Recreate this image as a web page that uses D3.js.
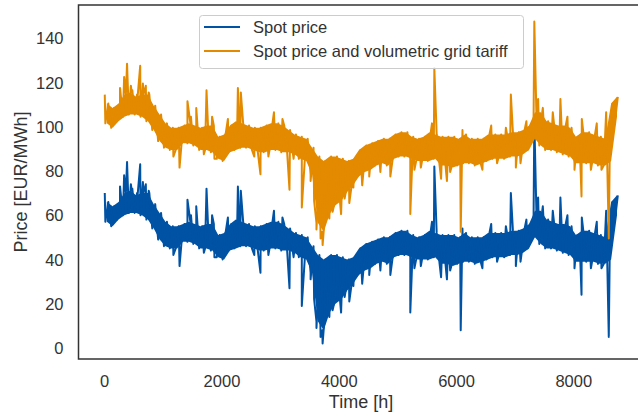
<!DOCTYPE html>
<html><head><meta charset="utf-8">
<script src="https://cdn.jsdelivr.net/npm/d3@7"></script>
<style>body{margin:0;background:#fff}svg{display:block}</style>
</head><body>
<svg id="chart" width="638" height="416"></svg>
<script>
// Hourly prices summarised per 100-hour block: typical noise band (low/high),
// plus the narrow spikes/dips read individually.
const blockHours = 100;
const lastHour = 8759;
const spotBandLow = [57,55,58,60,61,61,60,58,54,49, 46,45,45,48,48,47,45,45,44,41, 40,44,45,46,46,45,44,44,45,45, 44,44,43,41,40,34,12,8,16,20, 22,26,29,33,35,36,38,39,38,41, 42,42,41,40,40,40,41,38,38,37, 38,39,39,38,39,40,41,41,41,42, 42,43,45,50,47,45,45,44,43,42, 39,39,39,39,38,38,40,60];
const spotBandHigh = [66,64,66,70,71,69,70,70,65,61, 57,55,55,56,57,56,55,56,56,51, 52,56,58,57,56,55,55,56,57,57, 56,54,52,51,50,46,42,40,42,42, 41,40,41,45,47,48,49,50,50,52, 53,53,51,50,51,53,52,51,51,51, 50,52,50,50,50,52,52,52,52,53, 53,54,56,62,62,58,57,56,56,55, 51,53,53,52,51,50,66,69];
const spotSpikeHours = [10,270,340,390,455,480,560,614,660,710, 760,1180,1285,1420,1480,1570,1700,1745,1840,1880, 2110,2280,2330,2560,2665,2800,2895,3040,3160,3230, 3370,3440,3520,3580,3620,3660,3690,3725,3760,3840, 3895,3950,4040,4100,4180,4250,4400,4520,4710,4880, 5220,5290,5400,5590,5630,5745,5845,5900,6080,6110, 6450,6600,6700,6850,6935,7020,7100,7200,7335,7400, 7480,7650,7780,7900,8020,8140,8145,8300,8400,8480, 8560,8605];
const spotSpikeValues = [70,73,78,84,74,72,70,83,75,74, 71,42,37,67,60,64,43,72,60,41, 59,73,71,42,34,42,62,59,27,41, 19,49,31,22,9,30,5,2,14,14, 17,24,16,23,21,28,29,33,35,33, 16,36,37,57,82,32,31,35,8,54, 36,56,39,55,70,37,39,58,103,68, 64,62,68,60,36,24,59,36,57,36, 62,5];

const totalBandLow = [101.5,99.5,102.5,104.5,105.5,105.5,104.5,102.5,98.5,93.5, 90.5,89.5,89.5,92.5,92.5,91.5,89.5,89.5,88.5,85.5, 84.5,88.5,89.5,90.5,90.5,89.5,88.5,88.5,89.5,89.5, 88.5,88.5,87.5,85.5,84.5,78.5,56.5,52.5,60.5,64.5, 66.5,70.5,73.5,77.5,79.5,80.5,82.5,83.5,82.5,85.5, 86.5,86.5,85.5,84.5,84.5,84.5,85.5,82.5,82.5,81.5, 82.5,83.5,83.5,82.5,83.5,84.5,85.5,85.5,85.5,86.5, 86.5,87.5,89.5,94.5,91.5,89.5,89.5,88.5,87.5,86.5, 83.5,83.5,83.5,83.5,82.5,82.5,84.5,104.5];
const totalBandHigh = [110.5,108.5,110.5,114.5,115.5,113.5,114.5,114.5,109.5,105.5, 101.5,99.5,99.5,100.5,101.5,100.5,99.5,100.5,100.5,95.5, 96.5,100.5,102.5,101.5,100.5,99.5,99.5,100.5,101.5,101.5, 100.5,98.5,96.5,95.5,94.5,90.5,86.5,84.5,86.5,86.5, 85.5,84.5,85.5,89.5,91.5,92.5,93.5,94.5,94.5,96.5, 97.5,97.5,95.5,94.5,95.5,97.5,96.5,95.5,95.5,95.5, 94.5,96.5,94.5,94.5,94.5,96.5,96.5,96.5,96.5,97.5, 97.5,98.5,100.5,106.5,106.5,102.5,101.5,100.5,100.5,99.5, 95.5,97.5,97.5,96.5,95.5,94.5,110.5,113.5];
const totalSpikeHours = spotSpikeHours;
const totalSpikeValues = [114.5,117.5,122.5,128.5,118.5,116.5,114.5,127.5,119.5,118.5, 115.5,86.5,81.5,111.5,104.5,108.5,87.5,116.5,104.5,85.5, 103.5,117.5,115.5,86.5,78.5,86.5,106.5,103.5,71.5,85.5, 63.5,93.5,75.5,66.5,53.5,74.5,49.5,46.5,58.5,58.5, 61.5,68.5,60.5,67.5,65.5,72.5,73.5,77.5,79.5,77.5, 60.5,80.5,81.5,101.5,126.5,76.5,75.5,79.5,52.5,98.5, 80.5,100.5,83.5,99.5,114.5,81.5,83.5,102.5,147.5,112.5, 108.5,106.5,112.5,104.5,80.5,68.5,103.5,80.5,101.5,80.5, 106.5,49.5];

const xTicks = [0, 2000, 4000, 6000, 8000];
const yTicks = [0, 20, 40, 60, 80, 100, 120, 140];
const seriesNames = ["Spot price", "Spot price and volumetric grid tariff"];
const seriesColors = ["#0052a4", "#e38a00"];

function bandRows(lo, hi) {
  return lo.map((v, i) => ({h: Math.min(i * blockHours + 45, lastHour), lo: v, hi: hi[i]}));
}
function linePoints(lo, hi, spikeH, spikeV) {
  const pts = [];
  lo.forEach((v, i) => {
    pts.push([Math.min(i * blockHours + 20, lastHour), v]);
    pts.push([Math.min(i * blockHours + 70, lastHour), hi[i]]);
  });
  spikeH.forEach((h, i) => pts.push([h, spikeV[i]]));
  return pts.sort((a, b) => a[0] - b[0]);
}

const svg = d3.select("#chart");
const font = "'Liberation Sans', Arial, sans-serif";
const textColor = "#333";
const plot = {left: 78.5, right: 643.5, top: 5, bottom: 359};

const x = d3.scaleLinear().domain([-438, 9197]).range([plot.left, plot.right]);
const y = d3.scaleLinear().domain([-5, 155]).range([plot.bottom, plot.top]);

svg.append("rect").attr("width", 638).attr("height", 416).attr("fill", "#fff");
svg.append("defs").append("clipPath").attr("id", "clip")
  .append("rect").attr("x", plot.left).attr("y", plot.top)
  .attr("width", plot.right - plot.left).attr("height", plot.bottom - plot.top);

const area = d3.area().x(d => x(d.h)).y0(d => y(d.lo)).y1(d => y(d.hi));
const line = d3.line().x(d => x(d[0])).y(d => y(d[1]));

const seriesData = [
  {band: bandRows(spotBandLow, spotBandHigh), pts: linePoints(spotBandLow, spotBandHigh, spotSpikeHours, spotSpikeValues)},
  {band: bandRows(totalBandLow, totalBandHigh), pts: linePoints(totalBandLow, totalBandHigh, totalSpikeHours, totalSpikeValues)}
];

const g = svg.append("g").attr("clip-path", "url(#clip)");
seriesData.forEach((s, i) => {
  g.append("path").datum(s.band).attr("d", area).attr("fill", seriesColors[i]);
  g.append("path").datum(s.pts).attr("d", line)
    .attr("fill", "none").attr("stroke", seriesColors[i])
    .attr("stroke-width", 2).attr("stroke-linejoin", "round");
});

const xAxis = d3.axisBottom(x).tickValues(xTicks).tickSize(0).tickPadding(0).tickFormat(d3.format("d"));
const gx = svg.append("g").attr("transform", `translate(0,${plot.bottom})`).call(xAxis);
gx.select(".domain").remove();
gx.selectAll("text").attr("dy", null).attr("y", 28).attr("fill", textColor)
  .style("font-family", font).style("font-size", "16.5px");

const yAxis = d3.axisLeft(y).tickValues(yTicks).tickSize(0).tickPadding(0).tickFormat(d3.format("d"));
const gy = svg.append("g").attr("transform", `translate(${plot.left - 15},0)`).call(yAxis);
gy.select(".domain").remove();
gy.selectAll("text").attr("x", 0).attr("dy", "0.35em").attr("fill", textColor)
  .style("font-family", font).style("font-size", "16.5px");

svg.append("rect").attr("x", plot.left).attr("y", plot.top)
  .attr("width", plot.right - plot.left).attr("height", plot.bottom - plot.top)
  .attr("fill", "none").attr("stroke", "#333").attr("stroke-width", 1.5);

svg.append("text").attr("x", (plot.left + plot.right) / 2).attr("y", 408)
  .attr("text-anchor", "middle").attr("fill", textColor)
  .style("font-family", font).style("font-size", "18px").text("Time [h]");
svg.append("text").attr("transform", `translate(27,${(plot.top + plot.bottom) / 2}) rotate(-90)`)
  .attr("text-anchor", "middle").attr("fill", textColor)
  .style("font-family", font).style("font-size", "18px").text("Price [EUR/MWh]");

const lg = svg.append("g");
lg.append("rect").attr("x", 199.5).attr("y", 15.5).attr("width", 324).attr("height", 53)
  .attr("rx", 3).attr("fill", "#fff").attr("fill-opacity", 0.8)
  .attr("stroke", "#ccc").attr("stroke-width", 1);
seriesNames.forEach((name, i) => {
  const yy = 27 + i * 24;
  lg.append("line").attr("x1", 204).attr("x2", 240).attr("y1", yy).attr("y2", yy)
    .attr("stroke", seriesColors[i]).attr("stroke-width", 2);
  lg.append("text").attr("x", 253).attr("y", yy + 6).attr("fill", textColor)
    .style("font-family", font).style("font-size", "16.5px").text(name);
});
</script>
</body></html>
